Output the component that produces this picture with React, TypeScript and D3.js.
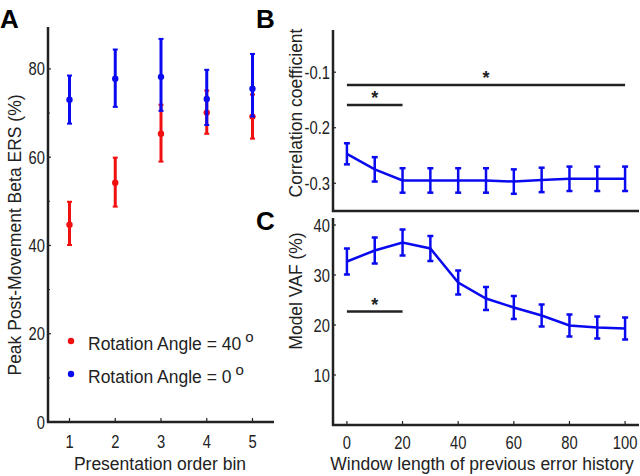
import React from "react";
import * as d3 from "d3";

// ---------- Panel A data ----------
const binsA = [1, 2, 3, 4, 5];
const red40Mean = [44.7, 54.2, 65.3, 70.1, 69.2];
const red40Lo = [40.1, 48.8, 59.0, 65.3, 64.2];
const red40Hi = [49.9, 59.9, 71.9, 75.1, 74.2];
const blue0Mean = [73.0, 77.8, 78.2, 73.2, 75.5];
const blue0Lo = [67.6, 71.4, 70.5, 67.3, 69.2];
const blue0Hi = [78.5, 84.4, 86.8, 79.8, 83.4];
const yTicksA = [0, 20, 40, 60, 80];
const yMinorA = [10, 30, 50, 70];

// ---------- Panel B data ----------
const windowLen = [0, 10, 20, 30, 40, 50, 60, 70, 80, 90, 100];
const corrMean = [-0.247, -0.275, -0.295, -0.295, -0.295, -0.295, -0.297, -0.294, -0.292, -0.292, -0.292];
const corrErr = [0.019, 0.022, 0.022, 0.022, 0.022, 0.022, 0.022, 0.022, 0.022, 0.022, 0.022];
const yTicksB = [-0.3, -0.2, -0.1];
const sigB = [
  { x0: 0, x1: 100, y: -0.123 },
  { x0: 0, x1: 20, y: -0.159 },
];

// ---------- Panel C data ----------
const vafMean = [32.7, 34.9, 36.5, 35.3, 28.5, 25.3, 23.5, 21.9, 19.9, 19.5, 19.3];
const vafErr = [2.6, 2.6, 2.6, 2.5, 2.4, 2.3, 2.3, 2.2, 2.2, 2.2, 2.2];
const yTicksC = [10, 20, 30, 40];
const xTicksC = [0, 20, 40, 60, 80, 100];
const sigC = [{ x0: 0, x1: 20, y: 22.7 }];

const FONT = "'Liberation Sans', Arial, Helvetica, sans-serif";
const BLUE = "#0a0af0";
const RED = "#f01010";
const SX = 0.82; // horizontal squeeze of tick labels

function TickLabel({ x, y, anchor, children }: { x: number; y: number; anchor: string; children: React.ReactNode }) {
  return (
    <text
      transform={`translate(${x},${y}) scale(${SX},1)`}
      fontSize={18}
      textAnchor={anchor}
      fill="#222"
    >
      {children}
    </text>
  );
}

export default function App() {
  // Panel A scales
  const xA = d3.scaleLinear().domain([0.53, 5.47]).range([48, 274]);
  const yA = d3.scaleLinear().domain([0, 89.5]).range([422, 27]);
  // Panel B scales
  const xB = d3.scaleLinear().domain([-5, 105]).range([333, 639]);
  const yB = d3.scaleLinear().domain([-0.35, -0.024]).range([211, 30]);
  // Panel C scales
  const xC = xB;
  const yC = d3.scaleLinear().domain([0, 41.4]).range([425, 218]);

  const lineB = d3
    .line<number>()
    .x((_, i) => xB(windowLen[i]))
    .y((d) => yB(d));
  const lineC = d3
    .line<number>()
    .x((_, i) => xC(windowLen[i]))
    .y((d) => yC(d));

  const errA = (
    means: number[],
    lo: number[],
    hi: number[],
    color: string,
    key: string
  ) =>
    binsA.map((b, i) => {
      const x = xA(b);
      return (
        <g key={key + i}>
          <line x1={x} x2={x} y1={yA(lo[i])} y2={yA(hi[i])} stroke={color} strokeWidth={3} />
          <line x1={x - 2.5} x2={x + 2.5} y1={yA(lo[i])} y2={yA(lo[i])} stroke={color} strokeWidth={2} />
          <line x1={x - 2.5} x2={x + 2.5} y1={yA(hi[i])} y2={yA(hi[i])} stroke={color} strokeWidth={2} />
          <circle cx={x} cy={yA(means[i])} r={3.2} fill={color} />
        </g>
      );
    });

  const errLine = (
    means: number[],
    errs: number[],
    xs: d3.ScaleLinear<number, number>,
    ys: d3.ScaleLinear<number, number>,
    key: string
  ) =>
    windowLen.map((w, i) => {
      const x = xs(w);
      const lo = ys(means[i] - errs[i]);
      const hi = ys(means[i] + errs[i]);
      return (
        <g key={key + i}>
          <line x1={x} x2={x} y1={lo} y2={hi} stroke={BLUE} strokeWidth={2.5} />
          <line x1={x - 3} x2={x + 3} y1={lo} y2={lo} stroke={BLUE} strokeWidth={2.5} />
          <line x1={x - 3} x2={x + 3} y1={hi} y2={hi} stroke={BLUE} strokeWidth={2.5} />
        </g>
      );
    });

  return (
    <svg
      width={640}
      height={476}
      style={{ position: "absolute", left: 0, top: 0, background: "#fff" }}
      fontFamily={FONT}
    >
      <rect x={0} y={0} width={640} height={476} fill="#fff" />

      {/* ================= Panel A ================= */}
      <text x={0} y={28} fontSize={26} fontWeight="bold">A</text>
      {yTicksA.map((t) => (
        <g key={"ya" + t}>
          <line x1={48} x2={51} y1={yA(t)} y2={yA(t)} stroke="#222" strokeWidth={1.2} />
          <TickLabel x={45} y={yA(t) + 6.5} anchor="end">{t}</TickLabel>
        </g>
      ))}
      {yMinorA.map((t) => (
        <line key={"yam" + t} x1={48} x2={50} y1={yA(t)} y2={yA(t)} stroke="#222" strokeWidth={1} />
      ))}
      {binsA.map((b) => (
        <g key={"xa" + b}>
          <line x1={xA(b)} x2={xA(b)} y1={422} y2={418} stroke="#222" strokeWidth={1.2} />
          <TickLabel x={xA(b)} y={448} anchor="middle">{b}</TickLabel>
        </g>
      ))}
      {errA(red40Mean, red40Lo, red40Hi, RED, "r")}
      {errA(blue0Mean, blue0Lo, blue0Hi, BLUE, "b")}
      <line x1={48} x2={48} y1={27} y2={423} stroke="#222" strokeWidth={2.5} />
      <line x1={47} x2={274} y1={422} y2={422} stroke="#222" strokeWidth={2.5} />
      <text
        transform="translate(21,235) rotate(-90)"
        fontSize={17.5}
        textAnchor="middle"
        fill="#222"
      >
        Peak Post-Movement Beta ERS (%)
      </text>
      <text x={160} y={470} fontSize={17.5} textAnchor="middle" fill="#222">
        Presentation order bin
      </text>
      {/* legend */}
      <circle cx={71} cy={341} r={3.2} fill={RED} />
      <text x={88} y={350} fontSize={17.5} fill="#222">
        Rotation Angle = 40
        <tspan dx={4} dy={-8} fontSize={15}>o</tspan>
      </text>
      <circle cx={71} cy={374} r={3.2} fill={BLUE} />
      <text x={88} y={383} fontSize={17.5} fill="#222">
        Rotation Angle = 0
        <tspan dx={4} dy={-8} fontSize={15}>o</tspan>
      </text>

      {/* ================= Panel B ================= */}
      <text x={256} y={28} fontSize={26} fontWeight="bold">B</text>
      {yTicksB.map((t) => (
        <g key={"yb" + t}>
          <line x1={333} x2={336} y1={yB(t)} y2={yB(t)} stroke="#222" strokeWidth={1.2} />
          <TickLabel x={330} y={yB(t) + 6.5} anchor="end">{t.toFixed(1)}</TickLabel>
        </g>
      ))}
      {sigB.map((s, i) => (
        <g key={"sb" + i}>
          <line x1={xB(s.x0)} x2={xB(s.x1)} y1={yB(s.y)} y2={yB(s.y)} stroke="#222" strokeWidth={2.5} />
          <text x={(xB(s.x0) + xB(s.x1)) / 2} y={yB(s.y) - 1} fontSize={18} fontWeight="bold" textAnchor="middle" fill="#222">*</text>
        </g>
      ))}
      <path d={lineB(corrMean) || ""} fill="none" stroke={BLUE} strokeWidth={2.5} />
      {errLine(corrMean, corrErr, xB, yB, "eb")}
      <line x1={333} x2={333} y1={30} y2={212} stroke="#222" strokeWidth={2.5} />
      <line x1={332} x2={639} y1={211} y2={211} stroke="#222" strokeWidth={2.5} />
      <text
        transform="translate(302,113) rotate(-90)"
        fontSize={17.5}
        textAnchor="middle"
        fill="#222"
      >
        Correlation coefficient
      </text>

      {/* ================= Panel C ================= */}
      <text x={256} y={230} fontSize={26} fontWeight="bold">C</text>
      {yTicksC.map((t) => (
        <g key={"yc" + t}>
          <line x1={333} x2={336} y1={yC(t)} y2={yC(t)} stroke="#222" strokeWidth={1.2} />
          <TickLabel x={330} y={yC(t) + 6.5} anchor="end">{t}</TickLabel>
        </g>
      ))}
      {xTicksC.map((t) => (
        <g key={"xc" + t}>
          <line x1={xC(t)} x2={xC(t)} y1={425} y2={421} stroke="#222" strokeWidth={1.2} />
          <TickLabel x={xC(t)} y={449} anchor="middle">{t}</TickLabel>
        </g>
      ))}
      {sigC.map((s, i) => (
        <g key={"sc" + i}>
          <line x1={xC(s.x0)} x2={xC(s.x1)} y1={yC(s.y)} y2={yC(s.y)} stroke="#222" strokeWidth={2.5} />
          <text x={(xC(s.x0) + xC(s.x1)) / 2} y={yC(s.y) - 1} fontSize={18} fontWeight="bold" textAnchor="middle" fill="#222">*</text>
        </g>
      ))}
      <path d={lineC(vafMean) || ""} fill="none" stroke={BLUE} strokeWidth={2.5} />
      {errLine(vafMean, vafErr, xC, yC, "ec")}
      <line x1={333} x2={333} y1={218} y2={426} stroke="#222" strokeWidth={2.5} />
      <line x1={332} x2={639} y1={425} y2={425} stroke="#222" strokeWidth={2.5} />
      <text
        transform="translate(302,291) rotate(-90)"
        fontSize={17.5}
        textAnchor="middle"
        fill="#222"
      >
        Model VAF (%)
      </text>
      <text x={482} y={470} fontSize={17.5} textAnchor="middle" fill="#222">
        Window length of previous error history
      </text>
    </svg>
  );
}
